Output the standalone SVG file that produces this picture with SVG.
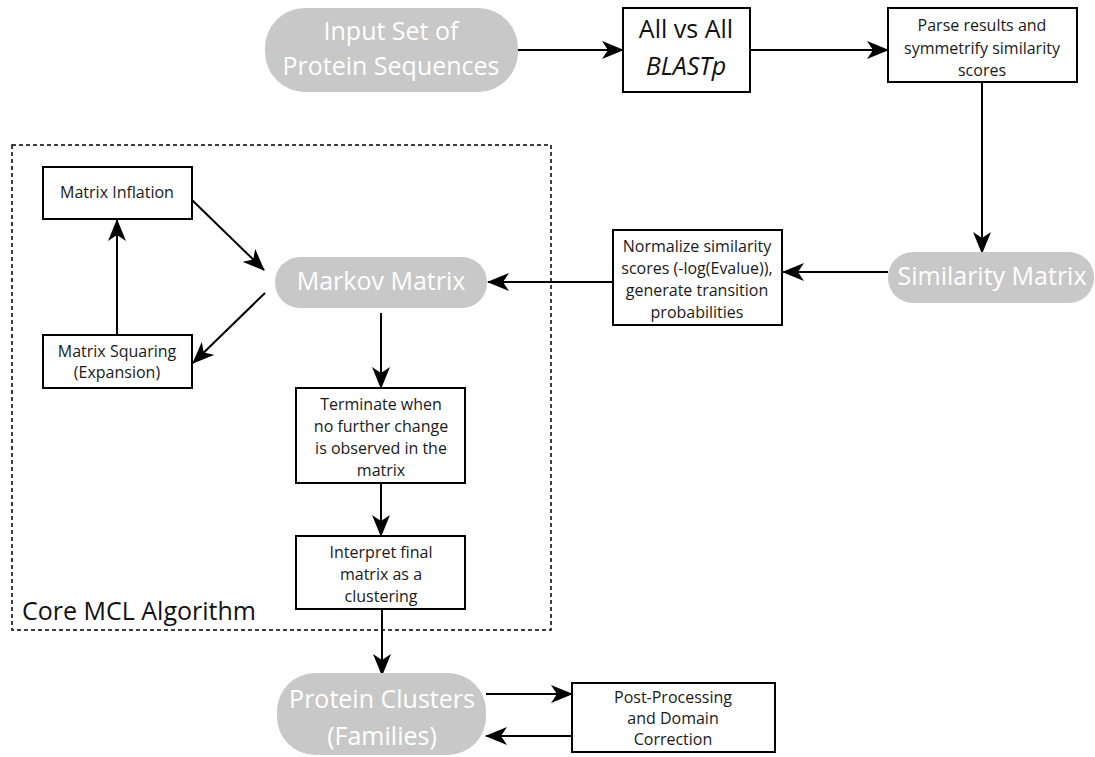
<svg xmlns="http://www.w3.org/2000/svg" width="1095" height="757" viewBox="0 0 1095 757">
  <defs>
    <marker id="arrow" markerUnits="userSpaceOnUse" markerWidth="22" markerHeight="18" viewBox="0 0 22 18" refX="21" refY="9" orient="auto">
      <path d="M0,0 L22,9 L0,18 L6,9 Z" fill="#000"/>
    </marker>
    <style>
      .pill { fill: #c8c8c8; }
      .pill-text { fill: #ffffff; font-family: "Open Sans", "Noto Sans", sans-serif; font-size: 25px; text-anchor: middle; }
      .box { fill: #ffffff; stroke: #000; stroke-width: 2; }
      .box-text { fill: #1a1a1a; font-family: "Open Sans", "Noto Sans", sans-serif; font-size: 16px; text-anchor: middle; }
      .big-text { fill: #111; font-family: "Open Sans", "Noto Sans", sans-serif; font-size: 25px; text-anchor: middle; }
      .conn { fill: none; stroke: #000; stroke-width: 2; marker-end: url(#arrow); }
      .frame { fill: none; stroke: #000; stroke-width: 1.5; stroke-dasharray: 4 3; }
      .frame-label { fill: #111; font-family: "Open Sans", "Noto Sans", sans-serif; font-size: 25px; }
    </style>
  </defs>
  <rect width="1095" height="757" fill="#ffffff"/>

  <!-- Core MCL algorithm frame -->
  <g id="core-mcl">
    <rect class="frame" x="12" y="145" width="539" height="485"/>
    <text class="frame-label" x="22" y="620">Core MCL Algorithm</text>
  </g>

  <!-- connectors -->
  <g id="connectors">
    <line class="conn" x1="518" y1="50" x2="623" y2="50"/>
    <line class="conn" x1="750" y1="50" x2="888" y2="50"/>
    <line class="conn" x1="982" y1="82" x2="982" y2="253"/>
    <line class="conn" x1="888" y1="272" x2="783" y2="272"/>
    <line class="conn" x1="613" y1="282" x2="488" y2="282"/>
    <line class="conn" x1="192" y1="200" x2="264" y2="270"/>
    <line class="conn" x1="265" y1="293" x2="193" y2="363"/>
    <line class="conn" x1="117" y1="335" x2="117" y2="220"/>
    <line class="conn" x1="381" y1="313" x2="381" y2="388"/>
    <line class="conn" x1="381" y1="483" x2="381" y2="536"/>
    <line class="conn" x1="382" y1="609" x2="382" y2="675"/>
    <line class="conn" x1="486" y1="694" x2="572" y2="694"/>
    <line class="conn" x1="572" y1="736" x2="486" y2="736"/>
  </g>

  <g id="input-set">
    <rect class="pill" x="265" y="8" width="253" height="84" rx="40"/>
    <text class="pill-text" x="391" y="40">Input Set of</text>
    <text class="pill-text" x="391" y="75">Protein Sequences</text>
  </g>

  <g id="blastp">
    <rect class="box" x="623" y="8" width="127" height="84"/>
    <text class="big-text" x="686" y="38">All vs All</text>
    <text class="big-text" x="686" y="75" font-style="italic">BLASTp</text>
  </g>

  <g id="parse-results">
    <rect class="box" x="888" y="8" width="189" height="74"/>
    <text class="box-text" x="982" y="31">Parse results and</text>
    <text class="box-text" x="982" y="54">symmetrify similarity</text>
    <text class="box-text" x="982" y="76">scores</text>
  </g>

  <g id="similarity-matrix">
    <rect class="pill" x="888" y="252" width="206" height="51" rx="25"/>
    <text class="pill-text" x="992" y="285">Similarity Matrix</text>
  </g>

  <g id="normalize">
    <rect class="box" x="613" y="230" width="169" height="95"/>
    <text class="box-text" x="697" y="252">Normalize similarity</text>
    <text class="box-text" x="697" y="274">scores (-log(Evalue)),</text>
    <text class="box-text" x="697" y="296">generate transition</text>
    <text class="box-text" x="697" y="318">probabilities</text>
  </g>

  <g id="markov-matrix">
    <rect class="pill" x="275" y="257" width="212" height="51" rx="25"/>
    <text class="pill-text" x="381" y="290">Markov Matrix</text>
  </g>

  <g id="matrix-inflation">
    <rect class="box" x="43" y="167" width="149" height="52"/>
    <text class="box-text" x="117" y="198">Matrix Inflation</text>
  </g>

  <g id="matrix-squaring">
    <rect class="box" x="43" y="335" width="149" height="53"/>
    <text class="box-text" x="117" y="357">Matrix Squaring</text>
    <text class="box-text" x="117" y="378">(Expansion)</text>
  </g>

  <g id="terminate">
    <rect class="box" x="296" y="388" width="169" height="95"/>
    <text class="box-text" x="381" y="410">Terminate when</text>
    <text class="box-text" x="381" y="432">no further change</text>
    <text class="box-text" x="381" y="454">is observed in the</text>
    <text class="box-text" x="381" y="476">matrix</text>
  </g>

  <g id="interpret">
    <rect class="box" x="296" y="536" width="169" height="73"/>
    <text class="box-text" x="381" y="558">Interpret final</text>
    <text class="box-text" x="381" y="580">matrix as a</text>
    <text class="box-text" x="381" y="602">clustering</text>
  </g>

  <g id="protein-clusters">
    <rect class="pill" x="277" y="673" width="209" height="82" rx="38"/>
    <text class="pill-text" x="382" y="708">Protein Clusters</text>
    <text class="pill-text" x="382" y="745">(Families)</text>
  </g>

  <g id="post-processing">
    <rect class="box" x="572" y="683" width="203" height="69"/>
    <text class="box-text" x="673" y="703">Post-Processing</text>
    <text class="box-text" x="673" y="724">and Domain</text>
    <text class="box-text" x="673" y="745">Correction</text>
  </g>
</svg>
